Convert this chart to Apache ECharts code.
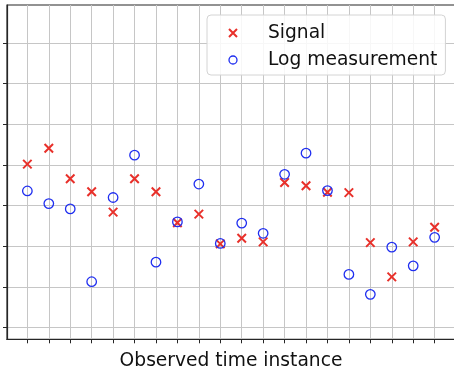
<!DOCTYPE html>
<html>
<head>
<meta charset="utf-8">
<script src="https://cdn.jsdelivr.net/npm/echarts@6/dist/echarts.min.js"></script>
<style>
  html, body { margin: 0; padding: 0; background: #fff; }
  #chart { width: 454px; height: 370px; }
</style>
</head>
<body>
<div id="chart"></div>
<script>
// time instances 0..19
const timeIndex = [0, 1, 2, 3, 4, 5, 6, 7, 8, 9, 10, 11, 12, 13, 14, 15, 16, 17, 18, 19]
const signalValues = [4.02, 4.41, 3.66, 3.34, 2.84, 3.66, 3.34, 2.58, 2.79, 2.06,
  2.20, 2.11, 3.57, 3.49, 3.33, 3.32, 2.09, 1.25, 2.11, 2.47]
const logValues = [3.36, 3.05, 2.92, 1.13, 3.20, 4.24, 1.61, 2.60, 3.53, 2.07,
  2.57, 2.32, 3.77, 4.29, 3.37, 1.31, 0.82, 1.98, 1.52, 2.22]
const yTicks = [0, 1, 2, 3, 4, 5, 6, 7]
const seriesNames = ['Signal', 'Log measurement']
const xAxisTitle = 'Observed time instance'

const FONT = 'DejaVu Sans'
const FONT_SIZE = 18.67
const RED = '#e8302a'
const BLUE = '#1f2ef0'
const crossPath = 'path://M0,0L10,10M10,0L0,10'

const chart = echarts.init(document.getElementById('chart'), null, { renderer: 'canvas' })

chart.setOption({
  animation: false,
  backgroundColor: '#fff',
  grid: {
    left: 7,
    top: 5,
    width: 448,
    height: 334.3,
    outerBoundsMode: 'none',
    show: true,
    borderColor: '#262626',
    borderWidth: 1.2,
    backgroundColor: 'transparent'
  },
  legend: {
    left: 207,
    top: 15,
    orient: 'vertical',
    padding: [8, 8, 5, 21],
    itemGap: 7,
    itemWidth: 20,
    itemHeight: 8,
    backgroundColor: 'rgba(255,255,255,0.85)',
    borderColor: '#d4d4d4',
    borderWidth: 1,
    borderRadius: 4,
    textStyle: {
      fontFamily: FONT,
      fontSize: FONT_SIZE,
      color: '#111',
      lineHeight: 20,
      padding: [0, 0, 0, 20]
    },
    data: [
      { name: seriesNames[0], icon: crossPath, itemStyle: { color: 'transparent', borderColor: RED, borderWidth: 2 } },
      { name: seriesNames[1], icon: 'circle', itemStyle: { color: 'transparent', borderColor: BLUE, borderWidth: 1.3 } }
    ]
  },
  xAxis: {
    type: 'value',
    min: -0.95,
    max: 19.95,
    name: xAxisTitle,
    nameLocation: 'middle',
    nameGap: 12,
    nameTextStyle: { fontFamily: FONT, fontSize: FONT_SIZE, color: '#111' },
    axisLine: { show: true, onZero: false, lineStyle: { color: '#262626', width: 1.2 } },
    axisTick: { show: true, length: 4, customValues: timeIndex, lineStyle: { color: '#262626', width: 1 } },
    axisLabel: { show: false, customValues: timeIndex },
    splitLine: { show: true, lineStyle: { color: '#c6c6c6', width: 1 } }
  },
  yAxis: {
    type: 'value',
    min: -0.285,
    max: 7.93,
    axisLine: { show: true, onZero: false, lineStyle: { color: '#262626', width: 1.2 } },
    axisTick: { show: true, length: 4, customValues: yTicks, lineStyle: { color: '#262626', width: 1 } },
    axisLabel: { show: false, customValues: yTicks },
    splitLine: { show: true, lineStyle: { color: '#c6c6c6', width: 1 } }
  },
  series: [
    {
      name: seriesNames[0],
      type: 'scatter',
      symbol: crossPath,
      symbolSize: 8.5,
      itemStyle: { color: 'transparent', borderColor: RED, borderWidth: 2, opacity: 1 },
      data: timeIndex.map((t, i) => [t, signalValues[i]]),
      z: 3
    },
    {
      name: seriesNames[1],
      type: 'scatter',
      symbol: 'circle',
      symbolSize: 9.5,
      itemStyle: { color: 'transparent', borderColor: BLUE, borderWidth: 1.3, opacity: 1 },
      data: timeIndex.map((t, i) => [t, logValues[i]]),
      z: 4
    }
  ]
})
</script>
</body>
</html>
